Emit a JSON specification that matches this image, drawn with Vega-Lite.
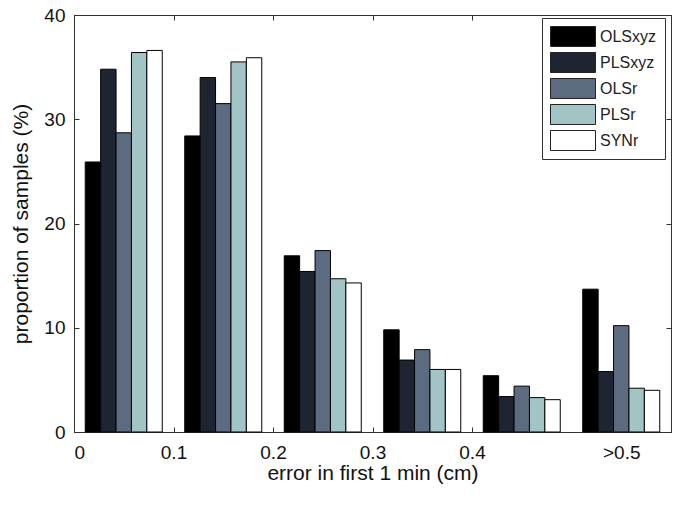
{
  "$schema": "https://vega.github.io/schema/vega-lite/v6.json",
  "width": 597,
  "height": 417,
  "autosize": {"type": "none"},
  "padding": {"left": 74, "top": 15, "right": 14, "bottom": 76},
  "background": "white",
  "config": {
    "font": "Liberation Sans",
    "view": {"stroke": "#333", "strokeWidth": 1},
    "axis": {
      "grid": false,
      "labelFont": "Liberation Sans",
      "labelFontSize": 19,
      "labelColor": "#111",
      "titleFont": "Liberation Sans",
      "titleFontSize": 21,
      "titleFontWeight": "normal",
      "titleColor": "#111",
      "domainColor": "#333",
      "tickColor": "#333",
      "tickSize": -5,
      "tickWidth": 1
    }
  },
  "datasets": {
    "bars": [
      {"range": "0-0.1", "series": "OLSxyz", "pct": 25.9},
      {"range": "0-0.1", "series": "PLSxyz", "pct": 34.8},
      {"range": "0-0.1", "series": "OLSr", "pct": 28.7},
      {"range": "0-0.1", "series": "PLSr", "pct": 36.4},
      {"range": "0-0.1", "series": "SYNr", "pct": 36.6},
      {"range": "0.1-0.2", "series": "OLSxyz", "pct": 28.4},
      {"range": "0.1-0.2", "series": "PLSxyz", "pct": 34.0},
      {"range": "0.1-0.2", "series": "OLSr", "pct": 31.5},
      {"range": "0.1-0.2", "series": "PLSr", "pct": 35.5},
      {"range": "0.1-0.2", "series": "SYNr", "pct": 35.9},
      {"range": "0.2-0.3", "series": "OLSxyz", "pct": 16.9},
      {"range": "0.2-0.3", "series": "PLSxyz", "pct": 15.4},
      {"range": "0.2-0.3", "series": "OLSr", "pct": 17.4},
      {"range": "0.2-0.3", "series": "PLSr", "pct": 14.7},
      {"range": "0.2-0.3", "series": "SYNr", "pct": 14.3},
      {"range": "0.3-0.4", "series": "OLSxyz", "pct": 9.8},
      {"range": "0.3-0.4", "series": "PLSxyz", "pct": 6.9},
      {"range": "0.3-0.4", "series": "OLSr", "pct": 7.9},
      {"range": "0.3-0.4", "series": "PLSr", "pct": 6.0},
      {"range": "0.3-0.4", "series": "SYNr", "pct": 6.0},
      {"range": "0.4-0.5", "series": "OLSxyz", "pct": 5.4},
      {"range": "0.4-0.5", "series": "PLSxyz", "pct": 3.4},
      {"range": "0.4-0.5", "series": "OLSr", "pct": 4.4},
      {"range": "0.4-0.5", "series": "PLSr", "pct": 3.3},
      {"range": "0.4-0.5", "series": "SYNr", "pct": 3.1},
      {"range": ">0.5", "series": "OLSxyz", "pct": 13.7},
      {"range": ">0.5", "series": "PLSxyz", "pct": 5.8},
      {"range": ">0.5", "series": "OLSr", "pct": 10.2},
      {"range": ">0.5", "series": "PLSr", "pct": 4.2},
      {"range": ">0.5", "series": "SYNr", "pct": 4.0}
    ]
  },
  "layer": [
    {
      "data": {"name": "bars"},
      "mark": {"type": "bar", "stroke": "#000", "strokeWidth": 1},
      "encoding": {
        "x": {
          "field": "range",
          "type": "nominal",
          "sort": ["0-0.1", "0.1-0.2", "0.2-0.3", "0.3-0.4", "0.4-0.5", ">0.5"],
          "scale": {"paddingInner": 0.226, "paddingOuter": 0.113},
          "axis": null
        },
        "xOffset": {
          "field": "series",
          "type": "nominal",
          "sort": ["OLSxyz", "PLSxyz", "OLSr", "PLSr", "SYNr"],
          "scale": {"paddingInner": 0, "paddingOuter": 0}
        },
        "y": {
          "field": "pct",
          "type": "quantitative",
          "scale": {"domain": [0, 40], "nice": false},
          "axis": {
            "orient": "left",
            "values": [0, 10, 20, 30, 40],
            "title": "proportion of samples (%)",
            "labelPadding": 14,
            "titlePadding": 12
          }
        },
        "fill": {
          "field": "series",
          "type": "nominal",
          "sort": ["OLSxyz", "PLSxyz", "OLSr", "PLSr", "SYNr"],
          "scale": {
            "domain": ["OLSxyz", "PLSxyz", "OLSr", "PLSr", "SYNr"],
            "range": ["#000000", "#1f2433", "#5d6b80", "#a3c4c4", "#ffffff"]
          },
          "legend": {
            "title": null,
            "orient": "none",
            "legendX": 468,
            "legendY": 3,
            "padding": 8,
            "strokeColor": "#333",
            "fillColor": "white",
            "symbolType": "M-1,-0.444H1V0.444H-1Z",
            "symbolSize": 2025,
            "symbolStrokeColor": "#222",
            "symbolStrokeWidth": 1,
            "symbolOpacity": 1,
            "labelFont": "Liberation Sans",
            "labelFontSize": 16,
            "labelColor": "#222",
            "labelOffset": 4,
            "clipHeight": 21,
            "rowPadding": 5
          }
        }
      }
    },
    {
      "mark": {"type": "point", "opacity": 0, "size": 0},
      "encoding": {
        "x": {
          "datum": 0,
          "type": "quantitative",
          "scale": {"domain": [0, 0.6], "nice": false},
          "axis": {
            "orient": "bottom",
            "values": [0, 0.1, 0.2, 0.3, 0.4, 0.55],
            "labelExpr": "datum.value > 0.5 ? '>0.5' : format(datum.value, '~g')",
            "tickOpacity": {"expr": "datum.value > 0.5 ? 0 : 1"},
            "title": "error in first 1 min (cm)",
            "labelPadding": 16,
            "titlePadding": 0
          }
        },
        "y": {
          "datum": 0,
          "type": "quantitative",
          "scale": {"domain": [0, 40], "nice": false},
          "axis": {
            "orient": "right",
            "values": [0, 10, 20, 30, 40],
            "labels": false,
            "title": null
          }
        }
      }
    },
    {
      "mark": {"type": "point", "opacity": 0, "size": 0},
      "encoding": {
        "x": {
          "datum": 0,
          "type": "quantitative",
          "scale": {"domain": [0, 0.6], "nice": false},
          "axis": {
            "orient": "top",
            "values": [0, 0.1, 0.2, 0.3, 0.4],
            "labels": false,
            "title": null
          }
        }
      }
    }
  ],
  "resolve": {
    "scale": {"x": "independent"},
    "axis": {"x": "independent", "y": "independent"}
  }
}
